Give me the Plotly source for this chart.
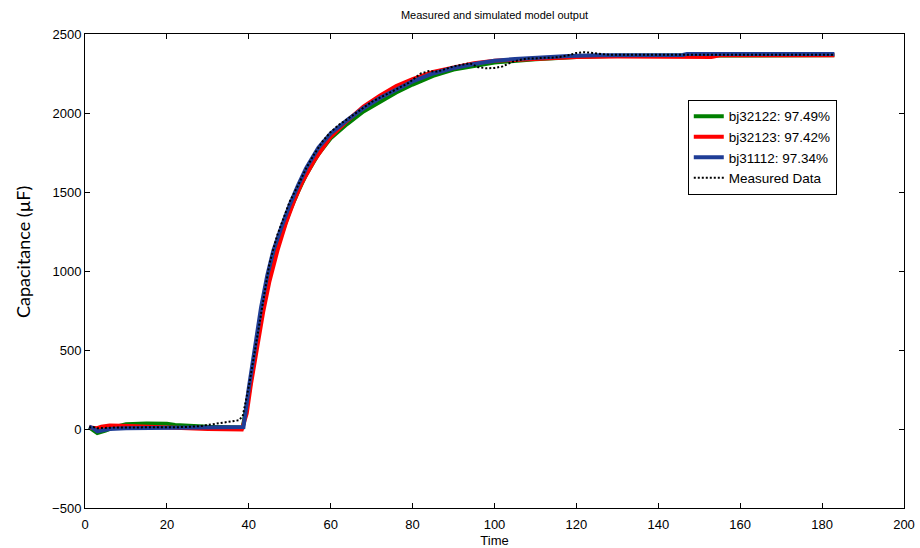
import plotly.graph_objects as go

# Measured capacitance response
t_meas = [1, 2, 3, 5, 8, 12, 16, 20, 24, 28, 31, 34, 36, 37.5, 38.5, 39.3, 40, 41, 42, 43,
          44, 45, 46, 47, 48, 49, 50, 52, 54, 56, 58, 60, 62, 64, 66, 68, 70, 73, 76, 79,
          82, 84, 86, 88, 90, 92, 94, 96, 98, 100, 102, 104, 106, 108, 110, 112, 114, 116,
          118, 120, 122, 124, 126, 128, 130, 135, 140, 145, 150, 155, 160, 165, 170, 175,
          180, 183]
c_meas = [10, 12, 5, 8, 10, 10, 10, 10, 12, 18, 30, 40, 48, 55, 80, 180, 270, 420, 580, 740,
          900, 1040, 1140, 1230, 1300, 1370, 1440, 1540, 1650, 1740, 1820, 1880, 1925, 1960,
          1995, 2035, 2070, 2110, 2150, 2190, 2250, 2265, 2262, 2280, 2295, 2305, 2315, 2290,
          2283, 2285, 2295, 2320, 2335, 2345, 2345, 2350, 2350, 2355, 2365, 2380, 2385, 2380,
          2372, 2368, 2368, 2368, 2369, 2368, 2368, 2368, 2369, 2368, 2368, 2368, 2368, 2368]

# Model bj32122
t_g = [1, 2, 3, 5, 7, 10, 15, 20, 22, 30, 38.5, 40, 41.5, 43, 44.5, 46, 48, 50, 52, 54, 57,
       60, 64, 68, 72, 76, 80, 85, 90, 95, 100, 110, 120, 130, 183]
c_g = [10, -5, -25, -10, 10, 30, 35, 33, 25, 15, 10, 220, 480, 720, 920, 1080, 1230, 1380,
       1500, 1610, 1740, 1840, 1930, 2010, 2070, 2130, 2180, 2235, 2275, 2300, 2320, 2340,
       2355, 2362, 2365]

# Model bj32123
t_r = [1, 3, 4, 6, 9, 14, 20, 30, 38.3, 39.5, 40.5, 42, 43.5, 45, 47, 49, 51, 53, 56, 60,
       64, 68, 72, 76, 80, 85, 90, 95, 100, 110, 120, 130, 153, 155, 183]
c_r = [10, 5, 15, 22, 20, 15, 5, 0, -3, 100, 280, 520, 740, 930, 1130, 1300, 1440, 1560,
       1700, 1850, 1950, 2040, 2110, 2170, 2215, 2260, 2290, 2315, 2330, 2345, 2355, 2358,
       2355, 2365, 2365]

# Model bj31112
t_b = [1, 2, 3, 4, 6, 10, 20, 30, 38.7, 40, 41.5, 43, 44.5, 46, 48, 50, 52, 54, 57, 60, 64,
       68, 72, 76, 80, 85, 90, 95, 100, 105, 110, 118, 125, 146, 147, 183]
c_b = [15, 5, -15, -10, 0, 5, 8, 10, 12, 260, 520, 770, 970, 1130, 1280, 1420, 1540, 1650,
       1780, 1870, 1955, 2030, 2095, 2150, 2200, 2250, 2285, 2310, 2330, 2342, 2350, 2360,
       2365, 2367, 2374, 2374]

series_names = ["bj32122: 97.49%", "bj32123: 97.42%", "bj31112: 97.34%", "Measured Data"]

fig = go.Figure()
fig.add_trace(go.Scatter(x=t_g, y=c_g, mode="lines", name=series_names[0],
                         line=dict(color="#008000", width=4)))
fig.add_trace(go.Scatter(x=t_r, y=c_r, mode="lines", name=series_names[1],
                         line=dict(color="#ff0000", width=4)))
fig.add_trace(go.Scatter(x=t_b, y=c_b, mode="lines", name=series_names[2],
                         line=dict(color="#1f3d96", width=4)))
fig.add_trace(go.Scatter(x=t_meas, y=c_meas, mode="lines", name=series_names[3],
                         line=dict(color="#000000", width=2, dash="2px,2px")))

axis_common = dict(
    showgrid=False, zeroline=False, showline=True, linecolor="black", linewidth=1,
    mirror="ticks", ticks="inside", ticklen=5, tickcolor="black", automargin=False,
    tickfont=dict(family="Liberation Sans, Arial", size=13, color="black"),
)

fig.update_layout(
    width=920, height=548,
    margin=dict(l=85, r=16, t=34, b=40),
    paper_bgcolor="white", plot_bgcolor="white",
    title=dict(text="Measured and simulated model output", xref="paper", x=0.5,
               xanchor="center", y=0.973, yanchor="middle",
               font=dict(family="Liberation Sans, Arial", size=11, color="black")),
    xaxis=dict(range=[0, 200], dtick=20, ticklabelstandoff=4,
               title=dict(text="Time", standoff=12,
                          font=dict(family="Liberation Sans, Arial", size=13, color="black")),
               **axis_common),
    yaxis=dict(range=[-500, 2500], dtick=500, **axis_common),
    legend=dict(x=0.736, y=0.861, xanchor="left", yanchor="top",
                bgcolor="white", bordercolor="black", borderwidth=1,
                font=dict(family="Liberation Sans, Arial", size=13.5, color="black"),
                tracegroupgap=0, itemwidth=30),
    showlegend=True,
)

# Vertical axis label, placed slightly above the axis midpoint
fig.add_annotation(text="Capacitance (µF)", xref="paper", yref="paper",
                   x=-0.0757, y=0.54, xanchor="center", yanchor="middle",
                   textangle=-90, showarrow=False,
                   font=dict(family="Lato, Open Sans", size=18, color="black"))

fig.write_html("out.html")
